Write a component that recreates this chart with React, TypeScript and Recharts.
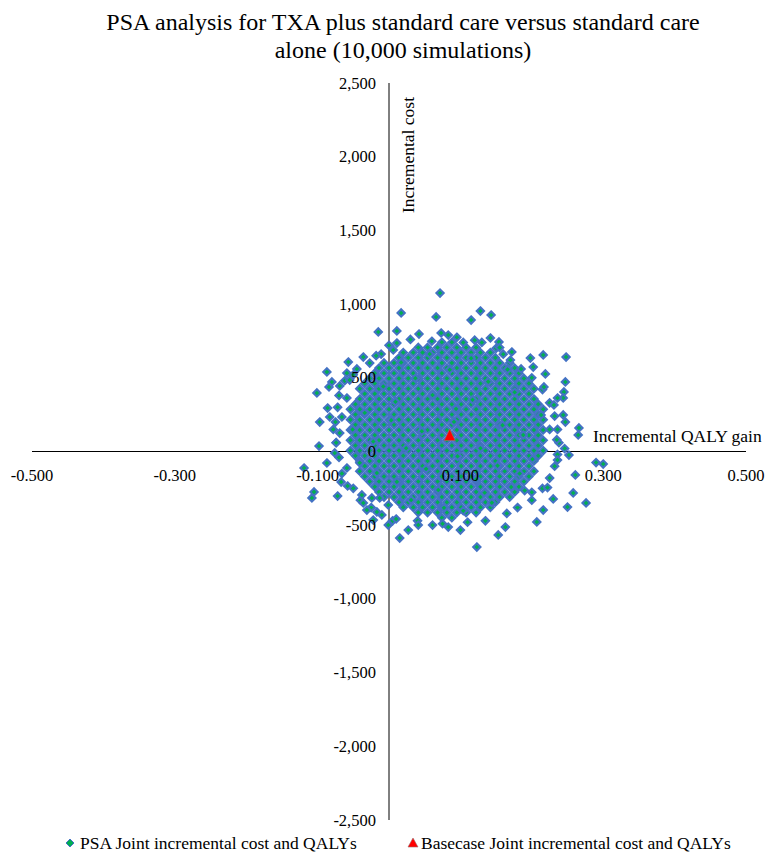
import React from 'react';
import { ScatterChart, Scatter, XAxis, YAxis, ReferenceLine } from 'recharts';

const FONT = '"Liberation Serif", "Times New Roman", Times, serif';

const titleLines = ['PSA analysis for TXA plus standard care versus standard care', 'alone (10,000 simulations)'];
const xTicks = [-0.5, -0.3, -0.1, 0.1, 0.3, 0.5];
const yTicks = [2500, 2000, 1500, 1000, 500, 0, -500, -1000, -1500, -2000, -2500];
const seriesNames = ['PSA Joint incremental cost and QALYs', 'Basecase Joint incremental cost and QALYs'];

// dense core of the cloud, read row by row (cost, list of QALY values)
const q21 = [-0.054, -0.041, -0.027, -0.014, 0, 0.014, 0.027, 0.041, 0.054, 0.068, 0.081, 0.095, 0.108, 0.122, 0.135, 0.149, 0.162, 0.176, 0.189, 0.203, 0.216];
const q19 = [-0.041, -0.027, -0.014, 0, 0.014, 0.027, 0.041, 0.054, 0.068, 0.081, 0.095, 0.108, 0.122, 0.135, 0.149, 0.162, 0.176, 0.189, 0.203];
const q17 = [-0.027, -0.014, 0, 0.014, 0.027, 0.041, 0.054, 0.068, 0.081, 0.095, 0.108, 0.122, 0.135, 0.149, 0.162, 0.176, 0.189];
const q15 = [-0.014, 0, 0.014, 0.027, 0.041, 0.054, 0.068, 0.081, 0.095, 0.108, 0.122, 0.135, 0.149, 0.162, 0.176];
const q11 = [0.014, 0.027, 0.041, 0.054, 0.068, 0.081, 0.095, 0.108, 0.122, 0.135, 0.149];
const q7 = [0.041, 0.054, 0.068, 0.081, 0.095, 0.108, 0.122];
const p20 = [-0.047, -0.034, -0.02, -0.007, 0.007, 0.02, 0.034, 0.047, 0.061, 0.074, 0.088, 0.101, 0.115, 0.128, 0.142, 0.155, 0.169, 0.182, 0.196, 0.209];
const p18 = [-0.034, -0.02, -0.007, 0.007, 0.02, 0.034, 0.047, 0.061, 0.074, 0.088, 0.101, 0.115, 0.128, 0.142, 0.155, 0.169, 0.182, 0.196];
const p16 = [-0.02, -0.007, 0.007, 0.02, 0.034, 0.047, 0.061, 0.074, 0.088, 0.101, 0.115, 0.128, 0.142, 0.155, 0.169, 0.182];
const p14 = [-0.007, 0.007, 0.02, 0.034, 0.047, 0.061, 0.074, 0.088, 0.101, 0.115, 0.128, 0.142, 0.155, 0.169];
const p10 = [0.02, 0.034, 0.047, 0.061, 0.074, 0.088, 0.101, 0.115, 0.128, 0.142];
const p2 = [0.074, 0.088];

const coreRows: [number, number[]][] = [
  [741, p2], [706, q7], [671, p10], [636, q11], [601, p14], [566, q15], [531, p16], [496, q17],
  [461, p18], [426, q19], [391, p18], [356, q19], [321, p20], [286, q21], [251, p20], [216, q21],
  [181, p20], [146, q21], [111, p20], [76, q21], [41, p20], [6, q21], [-29, p20], [-64, q19],
  [-99, p18], [-134, q19], [-169, p18], [-204, q17], [-239, p16], [-274, q15], [-309, p14],
  [-344, q11], [-379, p10], [-414, q7], [-449, p2],
];

// fuzzy edge of the cloud (QALY, cost)
const edgePoints: [number, number][] = [
  [0.03, 760], [0.095, 775], [0.12, 755], [0.06, 748], [0.0, 720], [0.15, 700],
  [-0.045, 560], [-0.062, 480], [-0.07, 380], [-0.05, 520],
  [-0.072, 300], [-0.075, 200], [-0.078, 150], [-0.074, 60], [-0.07, -40], [-0.066, -150],
  [-0.05, -250], [-0.04, -330], [-0.025, -380], [-0.01, -430], [0.005, -470],
  [0.04, -470], [0.075, -490], [0.11, -480], [0.135, -470],
  [0.165, -420], [0.18, -380], [0.2, -330], [0.215, -250], [0.225, -180],
  [0.232, -100], [0.236, -20], [0.238, 60], [0.236, 150], [0.232, 240],
  [0.225, 330], [0.215, 420], [0.2, 500], [0.185, 560], [0.17, 620], [0.16, 660],
];

// scattered simulations outside the core (QALY, cost)
const outlierPoints: [number, number][] = [
  [0.0715, 1075], [0.017, 940], [0.066, 913], [0.128, 953], [0.115, 892], [0.143, 926],
  [-0.015, 811], [0.011, 818], [0.042, 797], [0.073, 804], [0.083, 790], [0.142, 770],
  [0.154, 743], [0.011, 736], [0.104, 740], [0.13, 740], [0.155, 705], [0.172, 675],
  [0.006, 689], [-0.011, 661], [-0.018, 650], [-0.036, 641], [-0.027, 600], [-0.057, 607],
  [-0.059, 532], [-0.087, 540], [-0.08, 472], [-0.084, 438], [-0.101, 397], [-0.069, 445],
  [-0.055, 485], [-0.086, 295], [-0.097, 200], [-0.083, 234], [-0.066, 234], [-0.059, 363],
  [0.198, 634], [0.216, 655], [0.248, 641], [0.202, 573], [0.219, 526], [0.247, 472],
  [0.217, 438], [0.245, 404], [0.244, 363], [0.236, 363], [0.231, 316], [0.244, 248],
  [0.247, 200], [0.266, 160], [0.265, 112], [0.252, -24], [0.246, 20], [0.236, -58],
  [0.261, -159], [0.258, -281], [0.276, -349], [0.25, -377], [0.23, -322], [0.216, -397],
  [0.207, -478], [0.222, -245], [0.2, -277], [0.19, -265], [0.153, -566], [0.163, -513],
  [0.123, -648], [0.1, -533], [0.083, -513], [0.061, -499], [0.29, -75], [0.3, -85],
  [0.235, 80], [0.225, 150],
  [-0.069, 125], [-0.098, 37], [-0.087, -78], [-0.119, -112], [-0.067, -207], [-0.058, -234],
  [-0.105, -274], [-0.108, -315], [-0.072, -302], [-0.038, -295], [-0.036, -349], [-0.024, -315],
  [-0.013, -315], [-0.001, -363], [-0.017, -410], [-0.031, -397], [0.01, -458], [-0.001, -499],
  [-0.022, -465], [0.027, -533], [0.015, -587], [0.041, -499], [-0.076, -10], [-0.059, -112],
  [-0.074, 60],
];

// irregular simulations inside the core
const innerPoints: [number, number][] = [
  [0.003, 212], [0.037, 497], [0.115, 633], [0.176, 402], [0.052, -118], [0.144, -347],
  [-0.022, 68], [0.094, 289], [0.201, -53], [0.128, 22], [-0.041, -77], [0.069, -261],
  [0.159, 178], [0.011, -206], [0.085, 555], [-0.008, 441], [0.122, -189], [0.188, 112],
  [0.046, 137], [0.104, -402], [0.031, -329], [0.171, -241], [-0.034, 262], [0.061, 383],
  [0.139, 474], [0.017, 604], [0.096, -33], [0.213, 248], [-0.051, 149], [0.077, -382],
  [0.152, -96], [0.024, 22], [0.117, 351], [0.183, -150], [0.057, 662], [-0.017, -146],
  [0.134, -279], [0.091, 201], [0.009, 338], [0.166, 557],
];

const baseQaly = [0.085];
const baseCost = [105];

const psaPoints = [
  ...coreRows.flatMap(([cost, qalys]) => qalys.map((qaly) => ({ qaly, cost }))),
  ...edgePoints.map(([qaly, cost]) => ({ qaly, cost })),
  ...outlierPoints.map(([qaly, cost]) => ({ qaly, cost })),
  ...innerPoints.map(([qaly, cost]) => ({ qaly, cost })),
];
const basePoints = baseQaly.map((qaly, i) => ({ qaly, cost: baseCost[i] }));
const xTickData = xTicks.map((qaly) => ({ qaly, cost: 0, label: qaly.toFixed(3) }));
const yTickData = yTicks.map((cost) => ({ qaly: 0, cost, label: cost.toLocaleString('en-US') }));

const GREEN = '#00B050';
const BLUE = '#4472C4';
const RED = '#FF0000';

const Diamond = (props: any) => {
  const { cx, cy } = props;
  if (cx == null || cy == null) return null;
  const r = 3.7;
  return (
    <polygon
      points={`${cx},${cy - r} ${cx + r},${cy} ${cx},${cy + r} ${cx - r},${cy}`}
      fill={GREEN}
      stroke={BLUE}
      strokeWidth={2}
    />
  );
};

const Triangle = (props: any) => {
  const { cx, cy } = props;
  if (cx == null || cy == null) return null;
  return (
    <polygon
      points={`${cx},${cy - 7} ${cx + 5.5},${cy + 4.5} ${cx - 5.5},${cy + 4.5}`}
      fill={RED}
      stroke="#9a6b6b"
      strokeWidth={0.7}
    />
  );
};

const XTickLabel = (props: any) => {
  const { cx, cy, payload } = props;
  if (cx == null || cy == null) return null;
  return (
    <text x={cx} y={cy + 24} textAnchor="middle" dominantBaseline="central" fontFamily={FONT} fontSize={16.5} fill="#000">
      {payload.label}
    </text>
  );
};

const YTickLabel = (props: any) => {
  const { cx, cy, payload } = props;
  if (cx == null || cy == null) return null;
  return (
    <text x={cx - 13} y={cy} textAnchor="end" dominantBaseline="central" fontFamily={FONT} fontSize={16.5} fill="#000">
      {payload.label}
    </text>
  );
};

export default function App() {
  return (
    <div style={{ position: 'absolute', left: 0, top: 0, width: 769, height: 854, background: '#fff', fontFamily: FONT }}>
      <ScatterChart width={769} height={854} margin={{ top: 83, right: 23, bottom: 34, left: 32 }}>
        <XAxis type="number" dataKey="qaly" domain={[-0.5, 0.5]} hide />
        <YAxis type="number" dataKey="cost" domain={[-2500, 2500]} hide />
        <ReferenceLine x={0} stroke="#000" strokeWidth={1} />
        <ReferenceLine y={0} stroke="#000" strokeWidth={1} />
        <Scatter name={seriesNames[0]} data={psaPoints} shape={Diamond} isAnimationActive={false} />
        <Scatter name={seriesNames[1]} data={basePoints} shape={Triangle} isAnimationActive={false} />
        <Scatter data={xTickData} shape={XTickLabel} isAnimationActive={false} legendType="none" />
        <Scatter data={yTickData} shape={YTickLabel} isAnimationActive={false} legendType="none" />
      </ScatterChart>
      <svg width={769} height={854} style={{ position: 'absolute', left: 0, top: 0, pointerEvents: 'none' }}>
        <text x={403} y={22} textAnchor="middle" dominantBaseline="central" fontFamily={FONT} fontSize={24} fill="#000">
          {titleLines[0]}
        </text>
        <text x={403} y={50} textAnchor="middle" dominantBaseline="central" fontFamily={FONT} fontSize={24} fill="#000">
          {titleLines[1]}
        </text>
        <text
          x={408}
          y={155}
          transform="rotate(-90 408 155)"
          textAnchor="middle"
          dominantBaseline="central"
          fontFamily={FONT}
          fontSize={17.5}
          fill="#000"
        >
          Incremental cost
        </text>
        <text x={593} y={436} textAnchor="start" dominantBaseline="central" fontFamily={FONT} fontSize={17.5} fill="#000">
          Incremental QALY gain
        </text>
        <polygon points="70,839 74,843 70,847 66,843" fill={GREEN} stroke={BLUE} strokeWidth={1} />
        <text x={80} y={843} textAnchor="start" dominantBaseline="central" fontFamily={FONT} fontSize={17.5} fill="#000">
          {seriesNames[0]}
        </text>
        <polygon points="413,838 418,847 408,847" fill={RED} stroke="#9a6b6b" strokeWidth={0.6} />
        <text x={421} y={843} textAnchor="start" dominantBaseline="central" fontFamily={FONT} fontSize={17.5} fill="#000">
          {seriesNames[1]}
        </text>
      </svg>
    </div>
  );
}
